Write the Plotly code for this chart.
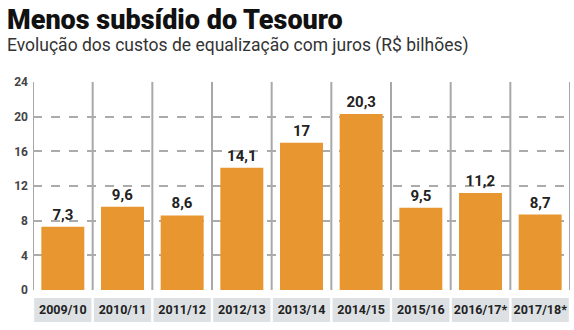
import plotly.graph_objects as go

categories = ["2009/10", "2010/11", "2011/12", "2012/13", "2013/14", "2014/15", "2015/16", "2016/17*", "2017/18*"]
values = [7.3, 9.6, 8.6, 14.1, 17, 20.3, 9.5, 11.2, 8.7]
value_labels = ["7,3", "9,6", "8,6", "14,1", "17", "20,3", "9,5", "11,2", "8,7"]
y_ticks = [0, 4, 8, 12, 16, 20, 24]

W, H = 574, 330
L, R, T, B = 33, 4, 82, 40

fig = go.Figure()
fig.add_trace(go.Bar(
    x=categories, y=values,
    text=value_labels, textposition="outside",
    textfont=dict(family="Roboto", size=15, color="#222222", weight="bold"),
    marker=dict(color="#E8962F", line=dict(width=0)),
    width=0.72, cliponaxis=False,
))

shapes = []
# vertical separators
for i in range(len(categories) + 1):
    shapes.append(dict(type="line", xref="x", yref="y", x0=i - 0.5, x1=i - 0.5, y0=0, y1=24,
                       line=dict(color="#A8A8A8", width=2), layer="below"))
# category label band boxes
for i in range(len(categories)):
    shapes.append(dict(type="rect", xref="x", yref="paper", x0=i - 0.48, x1=i + 0.48,
                       y0=-32 / 208, y1=-8 / 208, fillcolor="#DDE1E4", line=dict(width=0), layer="below"))
shapes.append(dict(type="rect", xref="x", yref="paper", x0=-0.97, x1=-0.55,
                   y0=-32 / 208, y1=-8 / 208, fillcolor="#DDE1E4", line=dict(width=0), layer="below"))

fig.update_layout(
    width=W, height=H,
    margin=dict(l=L, r=R, t=T, b=B),
    paper_bgcolor="white", plot_bgcolor="white",
    showlegend=False, bargap=0.28,
    shapes=shapes,
    xaxis=dict(type="category", showgrid=False, showline=False, zeroline=False,
               ticks="", tickfont=dict(family="Roboto", size=12.5, color="#222222", weight="bold"),
               ticklabelstandoff=10, range=[-0.5, len(categories) - 0.5]),
    yaxis=dict(range=[0, 24], tickvals=y_ticks, showgrid=True, gridcolor="#ABABAB",
               griddash="dash", gridwidth=1.5, zeroline=False, showline=False, ticks="",
               tickfont=dict(family="Roboto", size=12, color="#444444", weight="bold"),
               ticklabelstandoff=4),
    annotations=[
        dict(text="Menos subsídio do Tesouro", xref="paper", yref="paper",
             x=(5 - L) / (W - L - R), y=1 + (T - 2) / 208, xanchor="left", yanchor="top",
             showarrow=False, font=dict(family="Roboto", size=27, color="#111111", weight=900)),
        dict(text="Evolução dos custos de equalização com juros (R$ bilhões)", xref="paper", yref="paper",
             x=(5 - L) / (W - L - R), y=1 + (T - 33) / 208, xanchor="left", yanchor="top",
             showarrow=False, font=dict(family="Roboto", size=17.5, color="#333333")),
    ],
)
fig.write_html("out.html")
